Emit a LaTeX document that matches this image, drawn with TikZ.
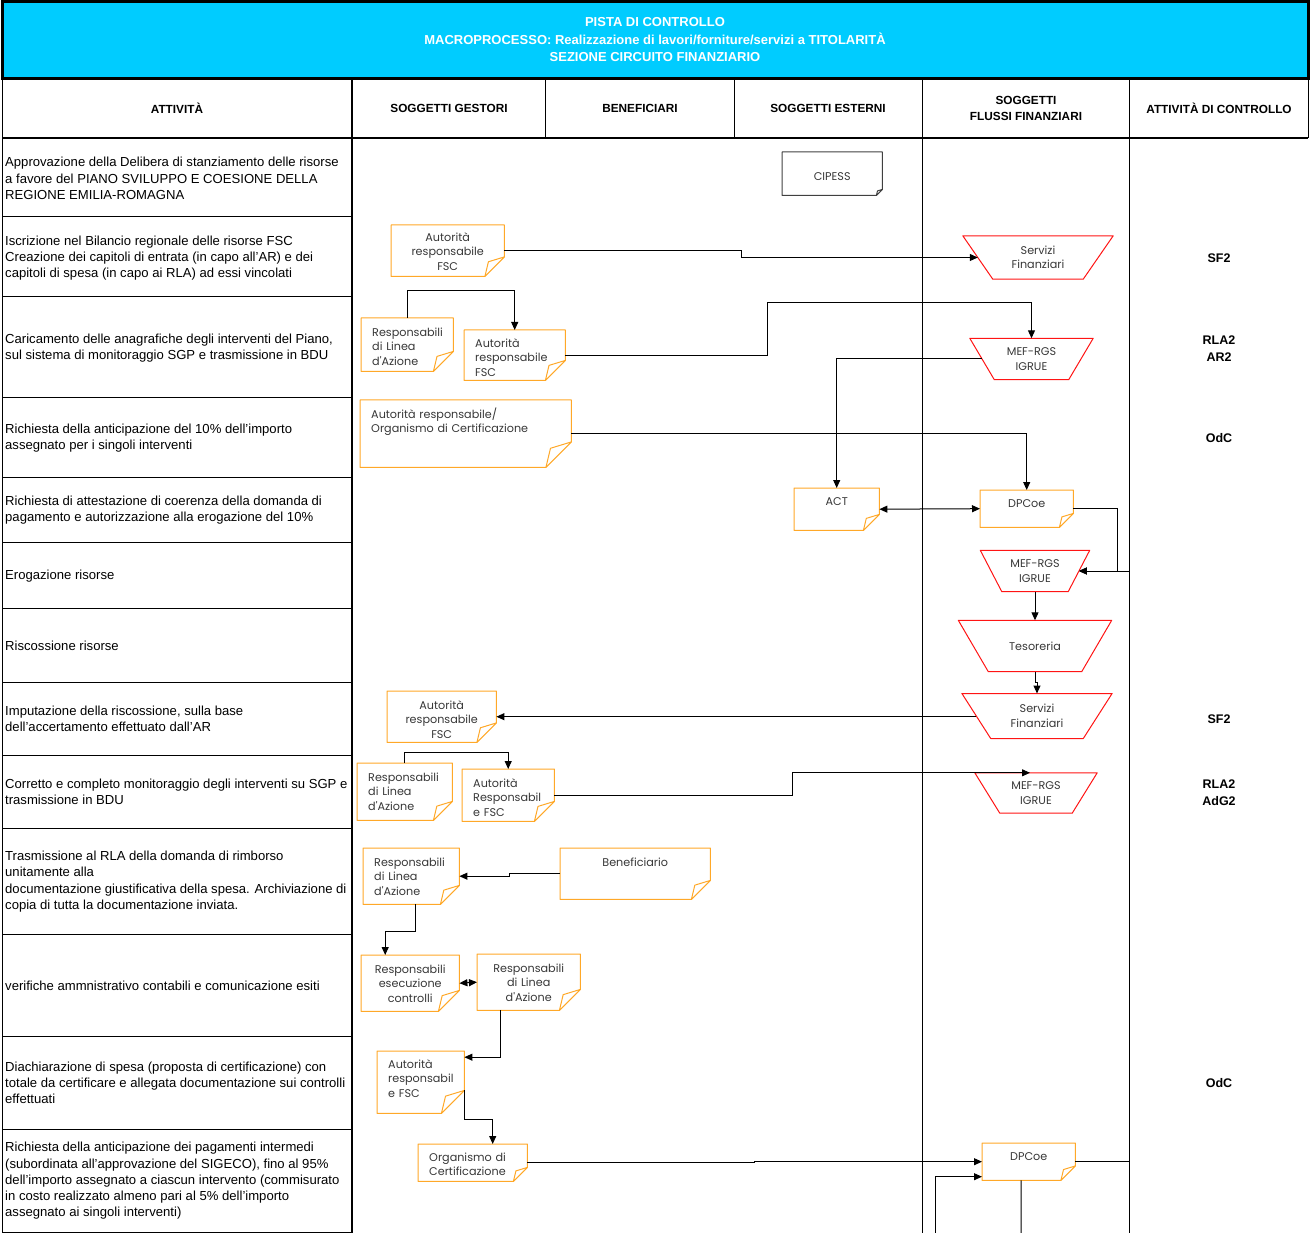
\documentclass[tikz,border=0pt]{standalone}
\usepackage{fontspec}
\setmainfont{Liberation Sans}
\newfontfamily\notefont{Poppins}
\usetikzlibrary{arrows.meta, calc}

\definecolor{headblue}{RGB}{0,204,255}
\definecolor{noteorange}{RGB}{255,168,40}
\definecolor{funnelred}{RGB}{255,20,20}
\definecolor{notetext}{RGB}{55,55,55}

\newcommand\notefold[3]{%
  \draw[#3, line width=1pt, line join=round]
    (#1.north west) -- (#1.north east) -- ([yshift=#2pt]#1.south east)
    -- ([xshift=-#2pt]#1.south east) -- (#1.south west) -- cycle
    ([yshift=#2pt]#1.south east) -- ([xshift=-0.82*#2pt, yshift=0.75*#2pt]#1.south east)
    -- ([xshift=-#2pt]#1.south east);}
\newcommand\funnelpath[2]{%
  \draw[funnelred, line width=1pt, line join=round]
    ([xshift=-#2pt]#1.north west) -- ([xshift=#2pt]#1.north east)
    -- ([xshift=-#2pt]#1.south east) -- ([xshift=#2pt]#1.south west) -- cycle;}

\begin{document}
\begin{tikzpicture}[x=1pt, y=-1pt,
    paperbox/.style 2 args={anchor=north west, inner ysep=0pt, inner xsep=11pt, text=notetext,
      font=\notefont\fontsize{11.2}{14.5}\selectfont,
      append after command={\pgfextra{\notefold{\tikzlastnode}{#1}{#2}}}},
    notebox/.style={paperbox={#1}{noteorange}},
    notebox/.default=19,
    funnel/.style={inner sep=0pt, align=center, text=notetext,
      font=\notefont\fontsize{11.2}{14.5}\selectfont,
      append after command={\pgfextra{\funnelpath{\tikzlastnode}{#1}}}},
    activity/.style={anchor=west, inner sep=0pt, align=left, font=\fontsize{13.1}{16.3}\selectfont},
    colhead/.style={align=center, font=\bfseries\fontsize{11.8}{16}\selectfont},
    control/.style={align=center, font=\bfseries\fontsize{12.5}{17}\selectfont},
    flow/.style={line width=1pt, -{Triangle[length=8pt,width=7pt]}},
    both/.style={line width=1pt, {Triangle[length=8pt,width=7pt]}-{Triangle[length=8pt,width=7pt]}},
    link/.style={line width=1pt},
    elbow/.style={to path={-| ($(\tikztostart)!.5!(\tikztotarget)$) |- (\tikztotarget)}}]

\useasboundingbox (0,0) rectangle (1310,1233);

\draw[line width=3pt, fill=headblue] (2,2) rectangle (1308,79);
\node[text=white, align=center, font=\bfseries\fontsize{13}{17.5}\selectfont] (title) at (655,40)
  {PISTA DI CONTROLLO\\MACROPROCESSO: Realizzazione di lavori/forniture/servizi a TITOLARITÀ\\SEZIONE CIRCUITO FINANZIARIO};

\draw[line width=1pt] (2,79) -- (2,1233) (545,79) -- (545,138)
  (734,79) -- (734,138) (922,79) -- (922,1233) (1129,79) -- (1129,1233) (1308,79) -- (1308,138);
\draw[line width=1.3pt] (352,79) -- (352,1233);
\draw[line width=2pt] (2,138) -- (1308,138);
\draw[line width=1pt] (2,217) -- (352,217) (2,297) -- (352,297) (2,398) -- (352,398)
  (2,477) -- (352,477) (2,542) -- (352,542) (2,608) -- (352,608) (2,682) -- (352,682)
  (2,755) -- (352,755) (2,828) -- (352,828) (2,934) -- (352,934) (2,1036) -- (352,1036)
  (2,1129) -- (352,1129) (2,1232) -- (352,1232);

\node[colhead] (h1) at (177,108) {ATTIVITÀ};
\node[colhead] (h2) at (449,108) {SOGGETTI GESTORI};
\node[colhead] (h3) at (640,108) {BENEFICIARI};
\node[colhead] (h4) at (828,108) {SOGGETTI ESTERNI};
\node[colhead] (h5) at (1026,108) {SOGGETTI\\FLUSSI FINANZIARI};
\node[colhead] (h6) at (1219,108) {ATTIVITÀ DI CONTROLLO};

\node[activity] (a1) at (5,178.5) {Approvazione della Delibera di stanziamento delle risorse\\a favore del PIANO SVILUPPO E COESIONE DELLA\\REGIONE EMILIA-ROMAGNA};
\node[activity] (a2) at (5,258) {Iscrizione nel Bilancio regionale delle risorse FSC\\Creazione dei capitoli di entrata (in capo all'AR) e dei\\capitoli di spesa (in capo ai RLA) ad essi vincolati};
\node[activity] (a3) at (5,348) {Caricamento delle anagrafiche degli interventi del Piano,\\sul sistema di monitoraggio SGP e trasmissione in BDU};
\node[activity] (a4) at (5,438) {Richiesta della anticipazione del 10\% dell'importo\\assegnato per i singoli interventi};
\node[activity] (a5) at (5,510) {Richiesta di attestazione di coerenza della domanda di\\pagamento e autorizzazione alla erogazione del 10\%};
\node[activity] (a6) at (5,576) {Erogazione risorse};
\node[activity] (a7) at (5,646) {Riscossione risorse};
\node[activity] (a8) at (5,719) {Imputazione della riscossione, sulla base\\dell'accertamento effettuato dall'AR};
\node[activity] (a9) at (5,792) {Corretto e completo monitoraggio degli interventi su SGP e\\trasmissione in BDU};
\node[activity] (a10) at (5,881.5) {Trasmissione al RLA della domanda di rimborso\\unitamente alla\\documentazione giustificativa della spesa. Archiviazione di\\copia di tutta la documentazione inviata.};
\node[activity] (a11) at (5,986) {verifiche ammnistrativo contabili e comunicazione esiti};
\node[activity] (a12) at (5,1083) {Diachiarazione di spesa (proposta di certificazione) con\\totale da certificare e allegata documentazione sui controlli\\effettuati};
\node[activity] (a13) at (5,1181) {Richiesta della anticipazione dei pagamenti intermedi\\(subordinata all'approvazione del SIGECO), fino al 95\%\\dell'importo assegnato a ciascun intervento (commisurato\\in costo realizzato almeno pari al 5\% dell'importo\\assegnato ai singoli interventi)};

\node[control] (c1) at (1219,258) {SF2};
\node[control] (c2) at (1219,348.5) {RLA2\\AR2};
\node[control] (c3) at (1219,438) {OdC};
\node[control] (c4) at (1219,719) {SF2};
\node[control] (c5) at (1219,792.5) {RLA2\\AdG2};
\node[control] (c6) at (1219,1083) {OdC};

\node[paperbox={6}{black!75}, text width=78pt, text height=28.6pt, text depth=14.4pt, align=center] (cipess) at (782,152) {CIPESS};
\node[notebox=19.5, text width=91pt, text height=16pt, text depth=35pt, align=center] (N1) at (391,225) {Autorità\\responsabile\\FSC};
\node[notebox=20, text width=70pt, text height=18pt, text depth=35pt, align=left] (N2) at (361,318) {Responsabili\\di Linea\\d'Azione};
\node[notebox=20, text width=79pt, text height=17pt, text depth=33pt, align=left] (N3) at (464,330) {Autorità\\responsabile\\FSC};
\node[notebox=25.5, text width=189pt, text height=18pt, text depth=49pt, align=left] (N4) at (360,400) {Autorità responsabile/\\Organismo di Certificazione};
\node[notebox=16, text width=63pt, text height=17.6pt, text depth=24.4pt, align=center] (ACT) at (794,488) {ACT};
\node[notebox=14, text width=71pt, text height=17pt, text depth=20pt, align=center] (DP1) at (980,490) {DPCoe};
\node[notebox=19.5, text width=87pt, text height=18pt, text depth=33pt, align=center] (N5) at (387,691) {Autorità\\responsabile\\FSC};
\node[notebox=19, text width=73pt, text height=18pt, text depth=39pt, align=left] (N6) at (357,763) {Responsabili\\di Linea\\d'Azione};
\node[notebox=20, text width=70pt, text height=18pt, text depth=34pt, align=left] (N7) at (462,769) {Autorità\\Responsabil\\e FSC};
\node[notebox=19, text width=74pt, text height=18pt, text depth=38pt, align=left] (N8) at (363,848) {Responsabili\\di Linea\\d'Azione};
\node[notebox=19, text width=128pt, text height=18pt, text depth=33pt, align=center] (BEN) at (560,848) {Beneficiario};
\node[notebox=21, text width=76pt, text height=18pt, text depth=38pt, align=center] (N9) at (361,955) {Responsabili\\esecuzione\\controlli};
\node[notebox=21, text width=81pt, text height=18pt, text depth=38pt, align=center] (N10) at (477,954) {Responsabili\\di Linea\\d'Azione};
\node[notebox=23, text width=65pt, text height=17pt, text depth=45pt, align=left] (N11) at (377,1051) {Autorità\\responsabil\\e FSC};
\node[notebox=14, text width=87pt, text height=17pt, text depth=20pt, align=left] (N12) at (418,1144) {Organismo di\\Certificazione};
\node[notebox=14.5, text width=71pt, text height=17pt, text depth=20pt, align=center] (DP2) at (982,1143) {DPCoe};

\node[funnel=15, minimum width=120pt, minimum height=43pt] (SF1) at (1038,257.5) {Servizi\\Finanziari};
\node[funnel=12.25, minimum width=98.5pt, minimum height=41pt] (MEF1) at (1031.5,359) {MEF-RGS\\IGRUE};
\node[funnel=10.75, minimum width=87.5pt, minimum height=41pt] (MEF2) at (1035,571) {MEF-RGS\\IGRUE};
\node[funnel=15, minimum width=123pt, minimum height=51pt] (TES) at (1035,646) {Tesoreria};
\node[funnel=14.4, minimum width=121pt, minimum height=44.6pt] (SF2) at (1037,716) {Servizi\\Finanziari};
\node[funnel=12.5, minimum width=97pt, minimum height=40pt] (MEF3) at (1036,793) {MEF-RGS\\IGRUE};

\coordinate (M3in) at ([xshift=-6pt]MEF3.north);
\coordinate (inlet) at (935,1233);
\coordinate (outlet) at (1021,1233);

\draw[flow] (N1.east) to[elbow] (SF1.west);
\draw[flow] (N2.north) -- ++(0,-27) -| (N3.north);
\draw[flow] (N3.east) -| (767,303) -| (MEF1.north);
\draw[flow] (MEF1.west) -| (ACT.north);
\draw[flow] (N4.east) -| (DP1.north);
\draw[both] (ACT.east) -- (DP1.west);
\draw[flow] (DP1.east) -- ++(44,0) |- (MEF2.east);
\draw[flow] (DP2.east) -- ++(54,0) |- (MEF2.east);
\draw[flow] (MEF2.south) -- (TES.north);
\draw[flow] (TES.south) -- ++(0,11) -| (SF2.north);
\draw[flow] (SF2.west) to[elbow] (N5.east);
\draw[flow] (N6.north) -- ++(0,-11) -| (N7.north);
\draw[flow] (N7.east) to[elbow] (M3in);
\draw[flow] (BEN.west) to[elbow] (N8.east);
\draw[flow] ([xshift=4pt]N8.south) -- ++(0,27) -| ([xshift=-25pt]N9.north);
\draw[both] (N9.east) -- (N10.west);
\draw[flow] ([xshift=-28pt]N10.south) |- ([yshift=25pt]N11.east);
\draw[flow] ([yshift=-8pt]N11.east) -- ++(0,29) -| ([xshift=20pt]N12.north);
\draw[flow] (N12.east) to[elbow] (DP2.west);
\draw[flow] (inlet) |- ([yshift=-15pt]DP2.west);
\draw[link] ([xshift=-7.5pt]DP2.south) -- (outlet);
\end{tikzpicture}
\end{document}
